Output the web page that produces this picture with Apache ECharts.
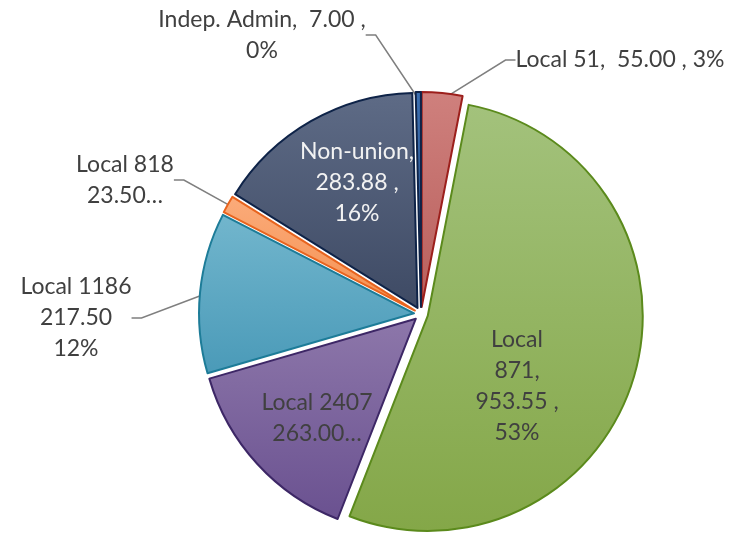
<!DOCTYPE html>
<html>
<head>
<meta charset="utf-8">
<script src="https://cdn.jsdelivr.net/npm/echarts@6/dist/echarts.min.js"></script>
<style>
	html, body { margin: 0; padding: 0; background: #fff; }
	#chart { width: 742px; height: 534px; }
</style>
</head>
<body>
<div id="chart"></div>
<script>
// slices clockwise from 12 o'clock
const names = ['Local 51', 'Local 871', 'Local 2407', 'Local 1186', 'Local 818', 'Non-union', 'Indep. Admin'];
const values = [55.00, 953.55, 263.00, 217.50, 23.50, 283.88, 7.00];

const fills = [
	['#cf807d', '#b85f5c'],
	['#a3c27c', '#84a748'],
	['#8d77aa', '#6a5190'],
	['#72b6cd', '#4a9ab8'],
	['#fbab7a', '#f59150'],
	['#5e6b86', '#3e4a64'],
	['#3c6fb0', '#2a5590']
];
const borders = ['#9c1f1c', '#5b8a1c', '#3d2766', '#1d7c98', '#e8641e', '#0e2348', '#0e2348'];

// label centres (text blocks)
const labelPos = [[620, 60], [517, 386], [317, 418], [76, 318], [125, 180], [357, 183], [262, 35]];
const inside = [false, true, true, false, false, true, false];

const total = values.reduce((a, b) => a + b, 0);
const pct = v => Math.round(v / total * 100) + '%';
const fmt = v => v.toFixed(2);

function labelText(i) {
	const n = names[i], v = values[i];
	switch (i) {
		case 0: return n + ',  ' + fmt(v) + ' , ' + pct(v);
		case 1: return 'Local\n871,\n' + fmt(v) + ' ,\n' + pct(v);
		case 2: return n + '\n' + fmt(v) + '…';
		case 3: return n + '\n' + fmt(v) + '\n' + pct(v);
		case 4: return n + '\n' + fmt(v) + '…';
		case 5: return n + ',\n' + fmt(v) + ' ,\n' + pct(v);
		case 6: return n + ',  ' + fmt(v) + ' ,\n' + pct(v);
	}
}

// exploded slices (no labels: the select state pins label positions)
const sliceData = names.map((n, i) => {
	const style = {
		color: new echarts.graphic.LinearGradient(0, 0, 0, 1, [
			{ offset: 0, color: fills[i][0] },
			{ offset: 1, color: fills[i][1] }
		]),
		borderColor: borders[i],
		borderWidth: 2
	};
	return { name: n, value: values[i], selected: true, itemStyle: style, select: { itemStyle: style } };
});

// same values again, transparent, only to carry the labels
const labelData = names.map((n, i) => ({
	name: n,
	value: values[i],
	label: {
		position: inside[i] ? 'inside' : 'outside',
		color: i === 5 ? '#f2f2f2' : '#404040'
	},
	labelLine: { show: !inside[i] }
}));

const center = [421, 314];
const radius = 215;

const chart = echarts.init(document.getElementById('chart'));
chart.setOption({
	animation: false,
	series: [
		{
			type: 'pie',
			center,
			radius,
			startAngle: 90,
			selectedMode: 'multiple',
			selectedOffset: 7,
			silent: true,
			emphasis: { disabled: true },
			label: { show: false },
			labelLine: { show: false },
			data: sliceData
		},
		{
			type: 'pie',
			center,
			radius,
			startAngle: 90,
			silent: true,
			avoidLabelOverlap: false,
			emphasis: { disabled: true },
			itemStyle: { color: 'rgba(0,0,0,0)', borderWidth: 0 },
			data: labelData,
			label: {
				fontFamily: 'Lato',
				fontSize: 23,
				lineHeight: 31,
				align: 'center',
				formatter: p => labelText(p.dataIndex)
			},
			labelLine: {
				lineStyle: { color: '#7f7f7f', width: 1.5 },
				length: 10,
				length2: 10
			},
			labelLayout: p => ({
				x: labelPos[p.dataIndex][0],
				y: labelPos[p.dataIndex][1],
				align: 'center',
				verticalAlign: 'middle'
			})
		}
	]
});
</script>
</body>
</html>
